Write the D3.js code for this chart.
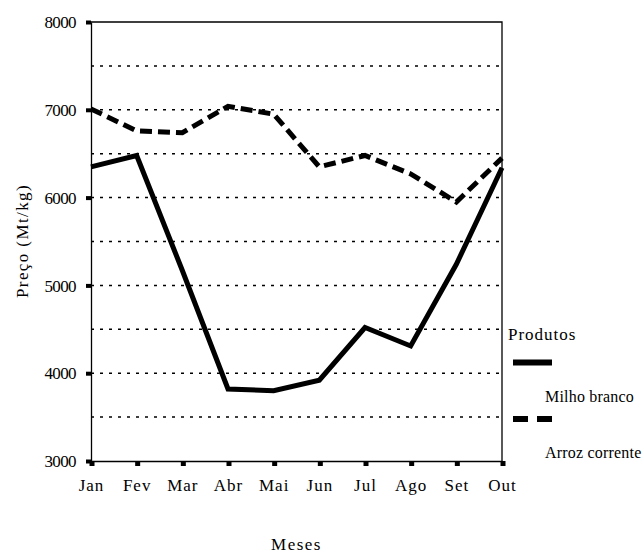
<!DOCTYPE html>
<html>
<head>
<meta charset="utf-8">
<script src="https://cdn.jsdelivr.net/npm/d3@7"></script>
<style>
  body { margin: 0; background: #fff; }
  svg text { font-family: "Liberation Serif", "DejaVu Serif", serif !important; fill: #000; }
</style>
</head>
<body>
<svg id="chart" width="643" height="554"></svg>
<script>
// Dados
var meses = ['Jan', 'Fev', 'Mar', 'Abr', 'Mai', 'Jun', 'Jul', 'Ago', 'Set', 'Out'];
var milhoBranco = [6350, 6480, 5170, 3820, 3800, 3920, 4520, 4310, 5240, 6340];
var arrozCorrente = [7010, 6760, 6740, 7040, 6950, 6350, 6480, 6270, 5950, 6450];
var yTicks = [3000, 4000, 5000, 6000, 7000, 8000];
var gridValues = [3500, 4000, 4500, 5000, 5500, 6000, 6500, 7000, 7500];

var series = [
    {name: 'Milho branco', values: milhoBranco, dash: null},
    {name: 'Arroz corrente', values: arrozCorrente, dash: '12,6'}
];

var margin = {top: 22, left: 91, right: 141, bottom: 93},
    width = 643, height = 554;

var svg = d3.select('#chart');

// Escalas
var x = d3.scalePoint()
    .domain(meses)
    .range([margin.left, width - margin.right]);

var y = d3.scaleLinear()
    .domain([3000, 8000])
    .range([height - margin.bottom, margin.top]);

// Linhas de grelha tracejadas
svg.append('g')
    .selectAll('line')
    .data(gridValues)
    .enter().append('line')
    .attr('x1', margin.left)
    .attr('x2', width - margin.right)
    .attr('y1', function(d) { return y(d); })
    .attr('y2', function(d) { return y(d); })
    .attr('stroke', '#000')
    .attr('stroke-width', 1.5)
    .attr('stroke-dasharray', '3,6');

// Moldura (topo e direita)
svg.append('path')
    .attr('d', 'M' + margin.left + ',' + y(8000) + 'H' + x('Out') + 'V' + y(3000))
    .attr('fill', 'none')
    .attr('stroke', '#000')
    .attr('stroke-width', 1.3);

// Eixo Y
var yAxis = svg.append('g')
    .attr('transform', 'translate(' + margin.left + ',0)')
    .call(d3.axisLeft(y).tickValues(yTicks).tickSize(0).tickPadding(15).tickFormat(d3.format('d')));
yAxis.attr('font-family', null);
yAxis.select('.domain').attr('stroke-width', 1.3);
yAxis.selectAll('text')
    .style('font-size', '17px')
    .style('letter-spacing', '-0.6px')
    .attr('dy', '0.33em');
yAxis.selectAll('.tick').append('rect')
    .attr('x', -5).attr('y', -2).attr('width', 5).attr('height', 4)
    .attr('fill', '#000');

// Eixo X
var xAxis = svg.append('g')
    .attr('transform', 'translate(0,' + y(3000) + ')')
    .call(d3.axisBottom(x).tickSize(0).tickPadding(0));
xAxis.attr('font-family', null);
xAxis.select('.domain').attr('stroke-width', 1.3);
xAxis.selectAll('text')
    .style('font-size', '17px')
    .style('letter-spacing', '1px')
    .attr('dy', null)
    .attr('y', 30);
xAxis.selectAll('.tick').append('rect')
    .attr('x', -2).attr('y', 0).attr('width', 5).attr('height', 5)
    .attr('fill', '#000');

// Linhas das séries
var line = d3.line()
    .x(function(d, i) { return x(meses[i]); })
    .y(function(d) { return y(d); });

svg.append('g')
    .selectAll('path')
    .data(series)
    .enter().append('path')
    .attr('d', function(d) { return line(d.values); })
    .attr('fill', 'none')
    .attr('stroke', '#000')
    .attr('stroke-width', 5)
    .attr('stroke-linejoin', 'miter')
    .attr('stroke-dasharray', function(d) { return d.dash; });

// Títulos dos eixos
svg.append('text')
    .attr('transform', 'translate(28,' + 241 + ') rotate(-90)')
    .attr('text-anchor', 'middle')
    .style('font-size', '17px')
    .style('letter-spacing', '1.4px')
    .text('Preço (Mt/kg)');

svg.append('text')
    .attr('x', (margin.left + x('Out')) / 2)
    .attr('y', 550)
    .attr('text-anchor', 'middle')
    .style('font-size', '17px')
    .style('letter-spacing', '1.5px')
    .text('Meses');

// Legenda
var legend = svg.append('g').attr('transform', 'translate(508,0)');
legend.append('text')
    .attr('x', 0).attr('y', 340)
    .style('font-size', '17px')
    .style('letter-spacing', '1px')
    .text('Produtos');

var items = legend.selectAll('g.item')
    .data(series)
    .enter().append('g')
    .attr('class', 'item')
    .attr('transform', function(d, i) { return 'translate(0,' + (362.5 + i * 56.5) + ')'; });

items.append('line')
    .attr('x1', 5).attr('x2', 44)
    .attr('y1', 0).attr('y2', 0)
    .attr('stroke', '#000')
    .attr('stroke-width', 6)
    .attr('stroke-dasharray', function(d) { return d.dash ? '15,9' : null; });

items.append('text')
    .attr('x', 37).attr('y', 39)
    .style('font-size', '16px')
    .style('letter-spacing', '0.2px')
    .text(function(d) { return d.name; });
</script>
</body>
</html>
